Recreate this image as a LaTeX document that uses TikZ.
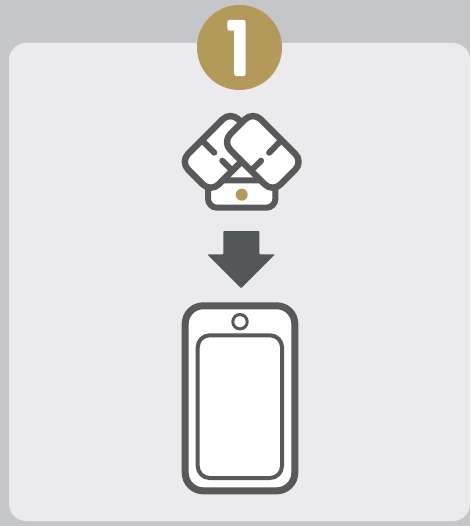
\documentclass[tikz,border=0pt]{standalone}
\usepackage{fontspec}
\newfontfamily\numfont{Poppins}
\definecolor{pagegray}{HTML}{C5C6C8}
\definecolor{panelgray}{HTML}{EBEBED}
\definecolor{icongray}{HTML}{58595B}
\definecolor{arrowgray}{HTML}{54575A}
\definecolor{gold}{HTML}{B39A5B}
\tikzset{
    simcard/.style={fill=white, draw=icongray, line width=6.4pt, rounded corners=11pt, line join=round},
    simline/.style={draw=icongray, line width=6pt, line cap=round},
    phonebody/.style={fill=white, draw=icongray, line width=7pt},
    phonescreen/.style={fill=white, draw=icongray, line width=4pt}
}

\begin{document}
\begin{tikzpicture}[x=1pt, y=-1pt]
    \useasboundingbox (0,0) rectangle (470,526);
    \fill[pagegray] (0,0) rectangle (470,526);
    \fill[panelgray, rounded corners=17pt] (9,43) rectangle (470,521);
    \filldraw[fill=gold, draw=none] (239.5,47.5) circle (42.5pt);
    \node[text=white, inner sep=0pt] (one) at (238.5,48) {\special{pdf:code q 1 j 1 J 1 1 1 RG 5 w 2 Tr}\fontsize{71}{71}\numfont 1\special{pdf:code Q}};
    % tray under the two cards
    \fill[white] (241.7,160) -- (225,181) -- (258.4,181) -- cycle;
    \filldraw[fill=white, draw=icongray, line width=6pt, rounded corners=9pt] (208,180.3) rectangle (275.4,207.7);
    \filldraw[fill=gold, draw=none] (241.7,194.7) circle (6pt);
    % left card
    \filldraw[simcard] (180.25,161.75) -- (230.5,111.5) -- (261,142) -- (210.75,192.25) -- cycle;
    \draw[simline] (202.35,140.65) -- (214.3,152.7);
    \draw[simline] (222.3,160.7) -- (232.35,170.65);
    % right card
    \filldraw[simcard] (303.15,161.75) -- (252.9,111.5) -- (222.4,142) -- (272.65,192.25) -- cycle;
    \draw[simline] (281.05,140.65) -- (269.1,152.7);
    \draw[simline] (261.1,160.7) -- (251.05,170.65);
    % arrow
    \fill[arrowgray, rounded corners=0.8pt] (223.3,231) -- (259.3,231) -- (259.3,254.3) -- (275,254.3) -- (241.2,288.3) -- (207.3,254.3) -- (223.3,254.3) -- cycle;
    % phone
    \filldraw[phonebody, rounded corners=18pt] (185.2,305.8) rectangle (294.8,490.8);
    \filldraw[phonescreen, rounded corners=12pt] (197.7,335.3) rectangle (282,478);
    \filldraw[fill=white, draw=icongray, line width=3pt] (240,321.7) circle (7.2pt);
\end{tikzpicture}
\end{document}
